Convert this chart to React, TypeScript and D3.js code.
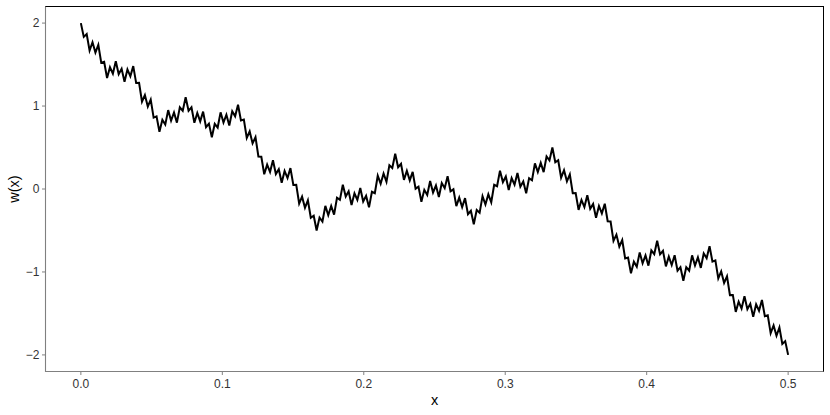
import React from "react";
import * as d3 from "d3";

// Weierstrass-type curve w(x), sampled at x = 0 ... 0.5 (244 evenly spaced samples)
const xStart = 0;
const xEnd = 0.5;
const wValues: number[] = [
  2.000, 1.834, 1.869, 1.668, 1.769, 1.644, 1.737, 1.522, 1.534, 1.338,
  1.467, 1.390, 1.541, 1.385, 1.450, 1.293, 1.441, 1.358, 1.481, 1.277,
  1.279, 1.052, 1.133, 0.994, 1.078, 0.861, 0.876, 0.690, 0.834, 0.776,
  0.951, 0.824, 0.922, 0.800, 0.985, 0.942, 1.106, 0.943, 0.985, 0.799,
  0.917, 0.815, 0.933, 0.746, 0.788, 0.623, 0.786, 0.741, 0.924, 0.800,
  0.895, 0.765, 0.937, 0.876, 1.016, 0.826, 0.837, 0.615, 0.694, 0.550,
  0.625, 0.392, 0.389, 0.178, 0.294, 0.205, 0.346, 0.181, 0.238, 0.075,
  0.218, 0.132, 0.252, 0.048, 0.050, -0.175, -0.092, -0.226, -0.136, -0.347,
  -0.323, -0.500, -0.345, -0.392, -0.203, -0.316, -0.204, -0.309, -0.106, -0.131,
  0.051, -0.091, -0.028, -0.192, -0.051, -0.131, 0.012, -0.151, -0.083, -0.221,
  -0.033, -0.051, 0.160, 0.064, 0.187, 0.086, 0.287, 0.254, 0.424, 0.262,
  0.303, 0.110, 0.219, 0.104, 0.207, 0.004, 0.029, -0.154, -0.010, -0.071,
  0.096, -0.042,
  0.042, -0.096, 0.071, 0.010, 0.154, -0.029, -0.004, -0.207,
  -0.104, -0.219, -0.110, -0.303, -0.262, -0.424, -0.254, -0.287, -0.086, -0.187,
  -0.064, -0.160, 0.051, 0.033, 0.221, 0.083, 0.151, -0.012, 0.131, 0.051,
  0.192, 0.028, 0.091, -0.051, 0.131, 0.106, 0.309, 0.204, 0.316, 0.203,
  0.392, 0.345, 0.500, 0.323, 0.347, 0.136, 0.226, 0.092, 0.175, -0.050,
  -0.048, -0.252, -0.132, -0.218, -0.075, -0.238, -0.181, -0.346, -0.205, -0.294,
  -0.178, -0.389, -0.392, -0.625, -0.550, -0.694, -0.615, -0.837, -0.826, -1.016,
  -0.876, -0.937, -0.765, -0.895, -0.800, -0.924, -0.741, -0.786, -0.623, -0.788,
  -0.746, -0.933, -0.815, -0.917, -0.799, -0.985, -0.943, -1.106, -0.942, -0.985,
  -0.800, -0.922, -0.824, -0.951, -0.776, -0.834, -0.690, -0.876, -0.861, -1.078,
  -0.994, -1.133, -1.052, -1.279, -1.277, -1.481, -1.358, -1.441, -1.293, -1.450,
  -1.385, -1.541, -1.390, -1.467, -1.338, -1.534, -1.522, -1.737, -1.644, -1.769,
  -1.668, -1.869, -1.834, -2.000,
];

const xTicks = [0, 0.1, 0.2, 0.3, 0.4, 0.5];
const xTickLabels = ["0.0", "0.1", "0.2", "0.3", "0.4", "0.5"];
const yTicks = [-2, -1, 0, 1, 2];
const yTickLabels = ["\u22122", "\u22121", "0", "1", "2"];
const xTitle = "x";
const yTitle = "w(x)";

const W = 830;
const H = 415;
const panel = { left: 45.5, right: 823.5, top: 6.5, bottom: 371.5 };

export default function App() {
  const n = wValues.length;
  const pts = wValues.map((w, i) => ({ x: xStart + ((xEnd - xStart) * i) / (n - 1), w }));
  const xPad = (xEnd - xStart) * 0.05;
  const x = d3.scaleLinear().domain([xStart - xPad, xEnd + xPad]).range([panel.left, panel.right]);
  const y = d3.scaleLinear().domain([-2.2, 2.2]).range([panel.bottom, panel.top]);
  const line = d3
    .line<{ x: number; w: number }>()
    .x((d) => x(d.x))
    .y((d) => y(d.w));
  const font = "Liberation Sans, Arial, Helvetica, sans-serif";
  const axisGrey = "#808080";
  const textGrey = "#333333";
  return (
    <svg
      width={W}
      height={H}
      style={{ position: "absolute", left: 0, top: 0, background: "#fff" }}
      fontFamily={font}
    >
      <rect x={0} y={0} width={W} height={H} fill="#fff" />
      <rect
        x={panel.left}
        y={panel.top}
        width={panel.right - panel.left}
        height={panel.bottom - panel.top}
        fill="none"
        stroke="#000"
        strokeWidth={1}
      />
      <path
        d={line(pts) || ""}
        fill="none"
        stroke="#000"
        strokeWidth={2}
        strokeLinejoin="miter"
        strokeMiterlimit={4}
      />
      {/* axis lines */}
      <line x1={panel.left} x2={panel.left} y1={panel.top} y2={panel.bottom + 0.5} stroke={axisGrey} strokeWidth={1.1} />
      <line x1={panel.left} x2={panel.right} y1={panel.bottom} y2={panel.bottom} stroke={axisGrey} strokeWidth={1.1} />
      {xTicks.map((t, i) => (
        <g key={"xt" + i}>
          <line x1={x(t)} x2={x(t)} y1={panel.bottom} y2={panel.bottom + 3.5} stroke={axisGrey} strokeWidth={1} />
          <text x={x(t)} y={panel.bottom + 16} textAnchor="middle" fontSize={12} fill={textGrey}>
            {xTickLabels[i]}
          </text>
        </g>
      ))}
      {yTicks.map((t, i) => (
        <g key={"yt" + i}>
          <line x1={panel.left - 3.5} x2={panel.left} y1={y(t)} y2={y(t)} stroke={axisGrey} strokeWidth={1} />
          <text x={panel.left - 6} y={y(t) + 4.3} textAnchor="end" fontSize={12} fill={textGrey}>
            {yTickLabels[i]}
          </text>
        </g>
      ))}
      <text
        x={(panel.left + panel.right) / 2}
        y={405}
        textAnchor="middle"
        fontSize={14.5}
        fill="#000"
      >
        {xTitle}
      </text>
      <text
        transform={`translate(19, ${(panel.top + panel.bottom) / 2}) rotate(-90)`}
        textAnchor="middle"
        fontSize={14.5}
        fill="#000"
      >
        {yTitle}
      </text>
    </svg>
  );
}
